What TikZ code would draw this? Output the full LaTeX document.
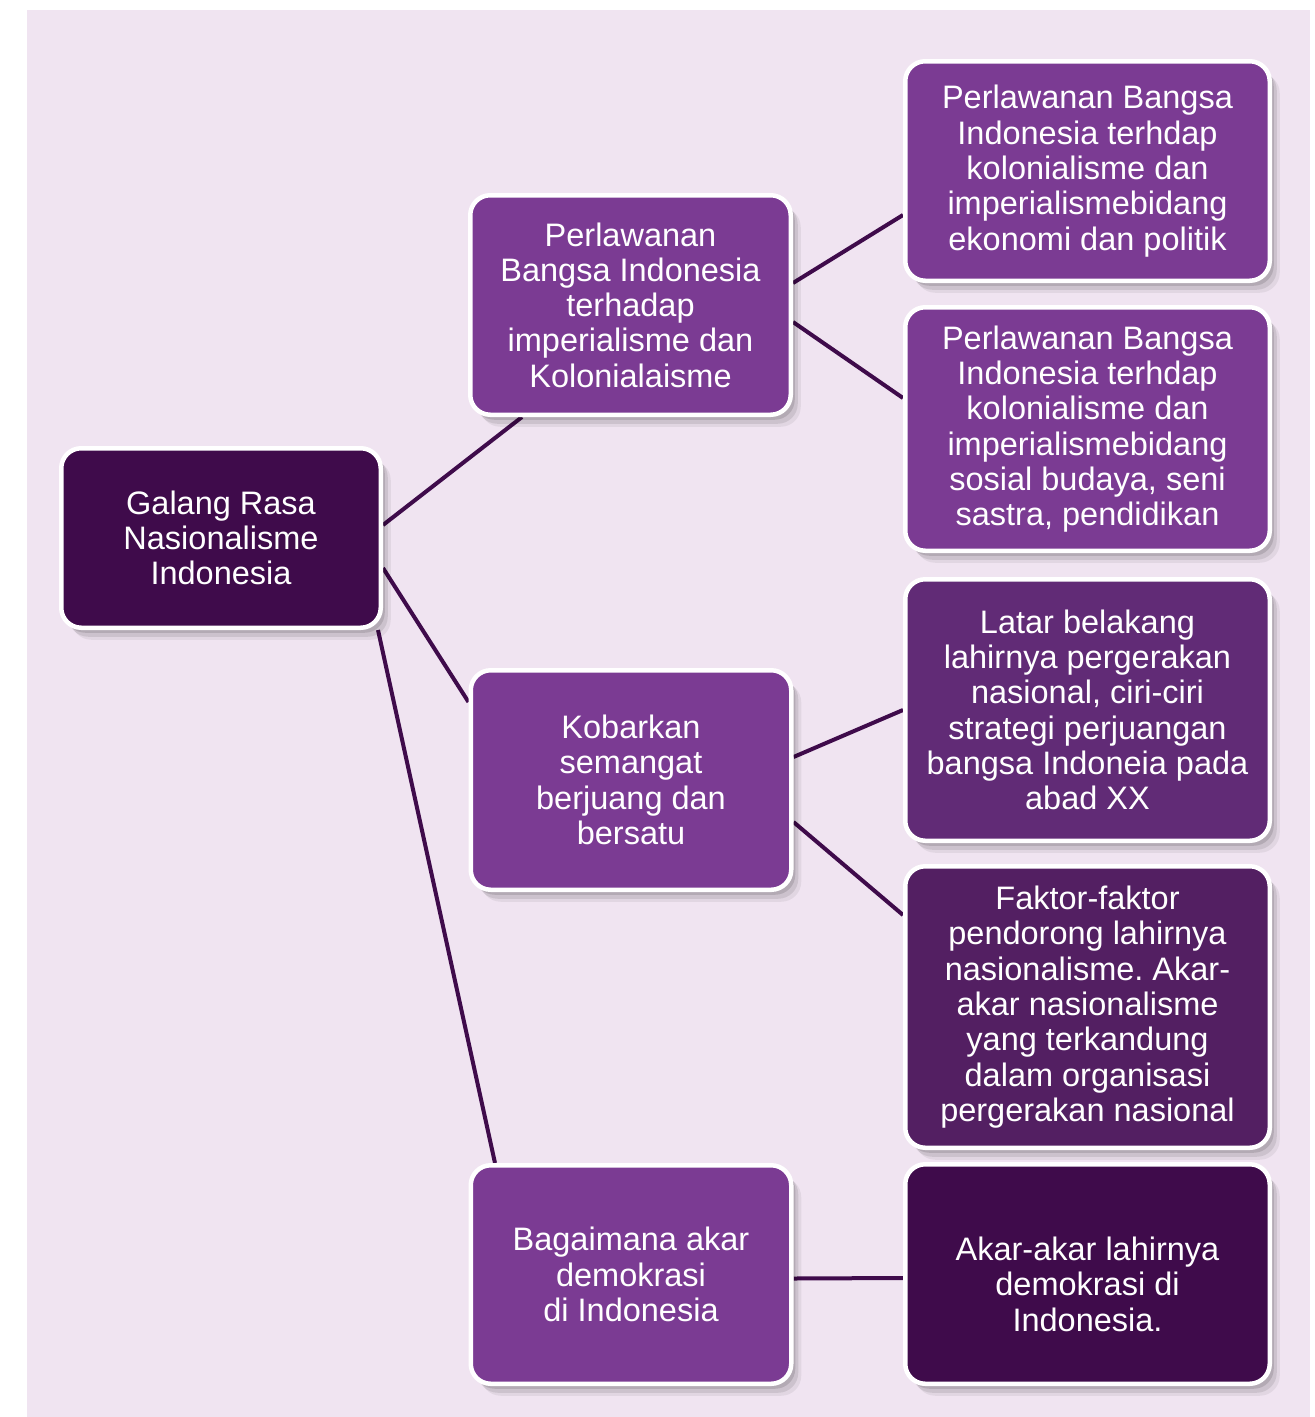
\documentclass[tikz,border=0pt]{standalone}
\usepackage{fontspec}
\setmainfont{Liberation Sans}
\usetikzlibrary{shadows}
\definecolor{bgc}{HTML}{F0E4F1}
\definecolor{dk}{HTML}{3F0B4B}
\definecolor{md}{HTML}{7B3B93}
\definecolor{rc}{HTML}{612B76}
\definecolor{rd}{HTML}{531F62}
\pgfdeclarelayer{back}
\pgfdeclarelayer{bg}
\pgfsetlayers{back,bg,main}
\frenchspacing
\begin{document}
\begin{tikzpicture}[x=1pt,y=-1pt,
  box/.style={rounded corners=20pt, draw=white, line width=4.5pt, text=white,
    align=center, inner sep=2pt, font=\fontsize{32.5}{35.3}\selectfont,
    general shadow={shadow xshift=10pt, shadow yshift=-12pt, fill=black, opacity=0.06},
    general shadow={shadow xshift=7pt, shadow yshift=-9pt, fill=black, opacity=0.09},
    general shadow={shadow xshift=4pt, shadow yshift=-5pt, fill=black, opacity=0.12}},
  link/.style={draw=dk, line width=4pt}]
\useasboundingbox (0,0) rectangle (1315,1417);
\begin{pgfonlayer}{back}
\fill[bgc] (27,10) rectangle (1310,1417);
\end{pgfonlayer}

\node[box, fill=dk, minimum width=319.5pt, minimum height=179.5pt] (root) at (221,538)
  {Galang Rasa\\Nasionalisme\\Indonesia};

\node[box, fill=md, minimum width=320.5pt, minimum height=219.5pt] (m1) at (630.5,305)
  {Perlawanan\\Bangsa Indonesia\\terhadap\\imperialisme dan\\Kolonialaisme};
\node[box, fill=md, minimum width=320.5pt, minimum height=219.5pt] (m2) at (631,780)
  {Kobarkan\\semangat\\berjuang dan\\bersatu};
\node[box, fill=md, minimum width=320.5pt, minimum height=218.5pt] (m3) at (631,1274.5)
  {Bagaimana akar\\demokrasi\\di Indonesia};

\node[box, fill=md, minimum width=364.5pt, minimum height=219.5pt] (r1) at (1087.5,171)
  {Perlawanan Bangsa\\Indonesia terhdap\\kolonialisme dan\\imperialismebidang\\ekonomi dan politik};
\node[box, fill=md, minimum width=364.5pt, minimum height=243.5pt] (r2) at (1087.5,429)
  {Perlawanan Bangsa\\Indonesia terhdap\\kolonialisme dan\\imperialismebidang\\sosial budaya, seni\\sastra, pendidikan};
\node[box, fill=rc, minimum width=364.5pt, minimum height=261.5pt] (r3) at (1087.5,710)
  {Latar belakang\\lahirnya pergerakan\\nasional, ciri-ciri\\strategi perjuangan\\bangsa Indoneia pada\\abad XX};
\node[box, fill=rd, minimum width=364.5pt, minimum height=281.5pt] (r4) at (1087.5,1007)
  {Faktor-faktor\\pendorong lahirnya\\nasionalisme. Akar-\\akar nasionalisme\\yang terkandung\\dalam organisasi\\pergerakan nasional};
\node[box, fill=dk, minimum width=364.5pt, minimum height=219.5pt] (r5) at (1087.5,1274)
  {\mbox{}\\[8.4pt]Akar-akar lahirnya\\demokrasi di\\Indonesia.};

\begin{pgfonlayer}{bg}
\draw[link] ([yshift=13pt]root.east) -- ([xshift=-108.5pt]m1.south);
\draw[link] ([yshift=-30pt]root.east) -- ([yshift=78pt]m2.west);
\draw[link] ([xshift=-5pt]root.south east) -- ([xshift=-136pt]m3.north);
\draw[link] ([yshift=22pt]m1.east) -- ([yshift=-44pt]r1.west);
\draw[link] ([yshift=-17pt]m1.east) -- ([yshift=31pt]r2.west);
\draw[link] ([yshift=23pt]m2.east) -- (r3.west);
\draw[link] ([yshift=-42pt]m2.east) -- ([yshift=92pt]r4.west);
\draw[link] ([yshift=-4pt]m3.east) -- ([yshift=-4pt]r5.west);
\end{pgfonlayer}
\end{tikzpicture}
\end{document}
